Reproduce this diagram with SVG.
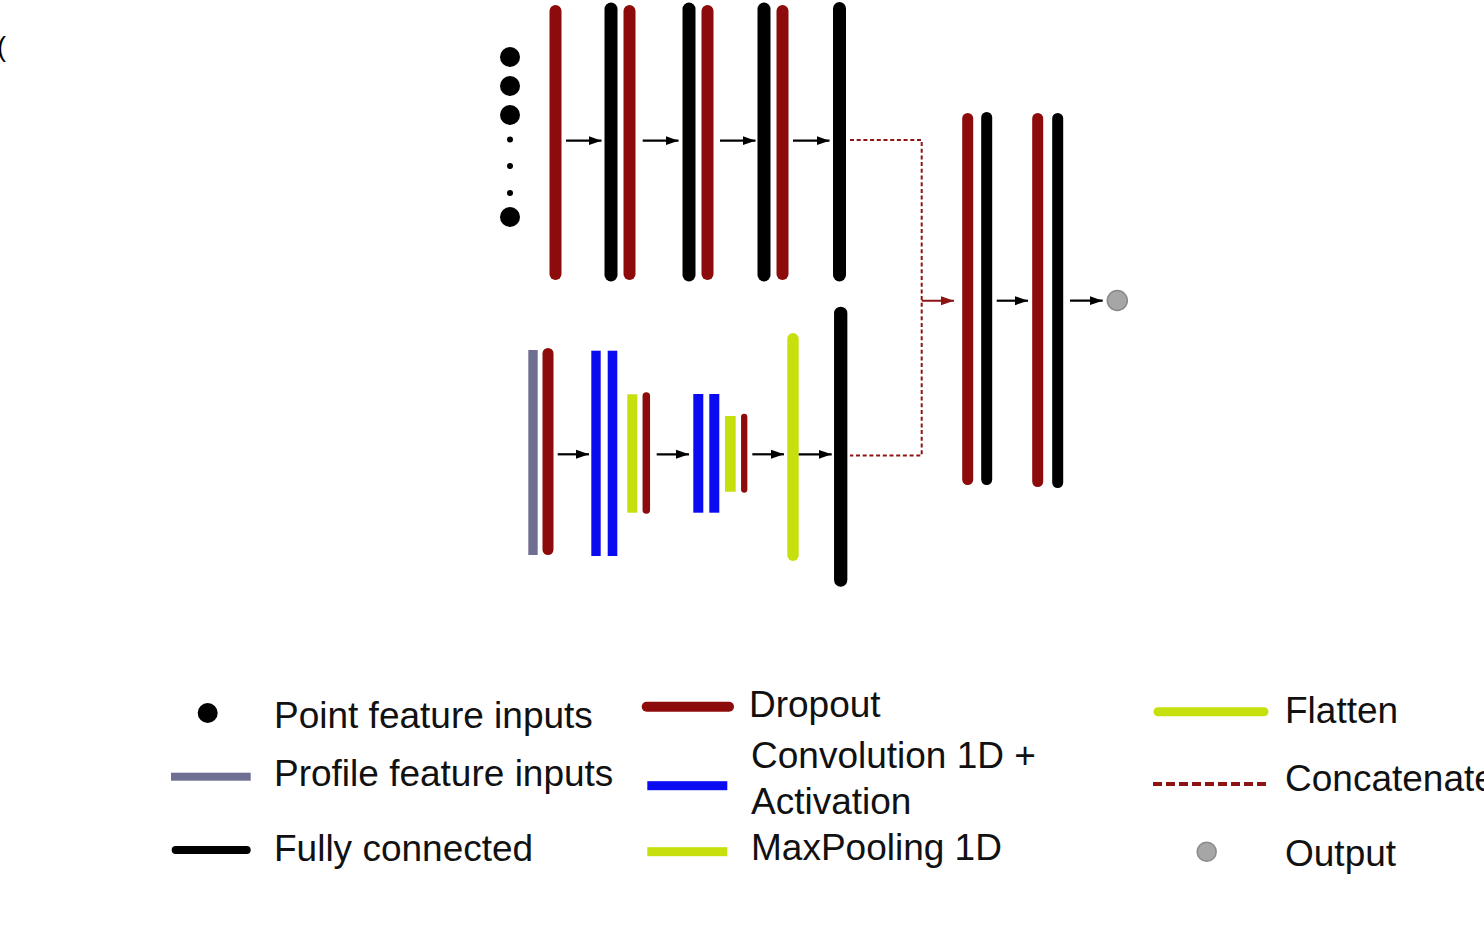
<svg xmlns="http://www.w3.org/2000/svg" width="1484" height="937" viewBox="0 0 1484 937">
<style>
.txt{font-family:"Liberation Sans",Arial,sans-serif;font-size:37px;fill:#111}
.drop{stroke:#8e0b0b;stroke-linecap:round;fill:none}
.fc{stroke:#000;stroke-linecap:round;fill:none}
.flat{stroke:#c5e00c;stroke-linecap:round;fill:none}
.conv{fill:#0b0bf2}
.pool{fill:#c5e00c}
.prof{fill:#6f6f93}
.arr{stroke:#000;stroke-width:2.2;fill:none;marker-end:url(#ah)}
.arrR{stroke:#8e1414;stroke-width:2;fill:none;marker-end:url(#ahR)}
.cat{stroke:#8e1414;stroke-width:2;stroke-dasharray:4 2.7;fill:none}
.out{fill:#a6a6a6;stroke:#8a8a8a;stroke-width:1.5}
</style>
<defs>
<marker id="ah" markerUnits="userSpaceOnUse" markerWidth="14" markerHeight="10" refX="13" refY="5" orient="auto"><path d="M0,0.5 L13,5 L0,9.5 z" fill="#000"/></marker>
<marker id="ahR" markerUnits="userSpaceOnUse" markerWidth="14" markerHeight="10" refX="13" refY="5" orient="auto"><path d="M0,0.5 L13,5 L0,9.5 z" fill="#8e1414"/></marker>
</defs>
<rect width="1484" height="937" fill="#fff"/>
<text x="-3" y="56" style="font-family:'Liberation Sans',Arial,sans-serif;font-size:27px;fill:#000">(</text>

<g id="point-inputs" fill="#000">
<circle cx="510" cy="57" r="10"/>
<circle cx="510" cy="86" r="10"/>
<circle cx="510" cy="115" r="10"/>
<circle cx="510" cy="139.5" r="3"/>
<circle cx="510" cy="166" r="3"/>
<circle cx="510" cy="193" r="3"/>
<circle cx="510" cy="217" r="10"/>
</g>
<g id="top-dropout-1"><line class="drop" x1="555.5" y1="11" x2="555.5" y2="274" stroke-width="12"/></g>
<g id="top-fc-1"><line class="fc" x1="611" y1="9" x2="611" y2="275" stroke-width="13"/></g>
<g id="top-dropout-2"><line class="drop" x1="629.5" y1="11" x2="629.5" y2="274" stroke-width="12"/></g>
<g id="top-fc-2"><line class="fc" x1="689" y1="9" x2="689" y2="275" stroke-width="13"/></g>
<g id="top-dropout-3"><line class="drop" x1="707.5" y1="11" x2="707.5" y2="274" stroke-width="12"/></g>
<g id="top-fc-3"><line class="fc" x1="764" y1="9" x2="764" y2="275" stroke-width="13"/></g>
<g id="top-dropout-4"><line class="drop" x1="782.5" y1="11" x2="782.5" y2="274" stroke-width="12"/></g>
<g id="top-fc-4"><line class="fc" x1="839.5" y1="8.5" x2="839.5" y2="275" stroke-width="13"/></g>

<g id="profile-input"><rect class="prof" x="528.3" y="350" width="9.4" height="205"/></g>
<g id="bot-dropout-1"><line class="drop" x1="548" y1="353.5" x2="548" y2="549.5" stroke-width="11"/></g>
<g id="bot-conv-1a"><rect class="conv" x="591.3" y="350.7" width="9.4" height="205.3"/></g>
<g id="bot-conv-1b"><rect class="conv" x="607.7" y="350.7" width="9.6" height="205.3"/></g>
<g id="bot-pool-1"><rect class="pool" x="627.3" y="394.3" width="10" height="118.4"/></g>
<g id="bot-dropout-2"><line class="drop" x1="646.3" y1="396" x2="646.3" y2="510" stroke-width="7.5"/></g>
<g id="bot-conv-2a"><rect class="conv" x="693.3" y="394" width="10" height="118.7"/></g>
<g id="bot-conv-2b"><rect class="conv" x="709.3" y="394" width="10" height="118.7"/></g>
<g id="bot-pool-2"><rect class="pool" x="725" y="416" width="10.7" height="75.7"/></g>
<g id="bot-dropout-3"><line class="drop" x1="744.2" y1="417" x2="744.2" y2="489.5" stroke-width="6.3"/></g>
<g id="bot-flatten"><line class="flat" x1="793" y1="338.7" x2="793" y2="555.3" stroke-width="11.4"/></g>
<g id="bot-fc"><line class="fc" x1="840.7" y1="313.3" x2="840.7" y2="580" stroke-width="13.3"/></g>

<g id="merge-dropout-1"><line class="drop" x1="967.7" y1="118.5" x2="967.7" y2="479.5" stroke-width="11"/></g>
<g id="merge-fc-1"><line class="fc" x1="986.7" y1="117.5" x2="986.7" y2="479.5" stroke-width="11"/></g>
<g id="merge-dropout-2"><line class="drop" x1="1037.7" y1="118.5" x2="1037.7" y2="481.5" stroke-width="11"/></g>
<g id="merge-fc-2"><line class="fc" x1="1057.7" y1="118.5" x2="1057.7" y2="482.5" stroke-width="11"/></g>
<g id="output"><circle class="out" cx="1117.3" cy="300.5" r="10"/></g>

<g id="connectors">
<line class="arr" x1="566" y1="140.7" x2="601.5" y2="140.7"/>
<line class="arr" x1="642.7" y1="140.7" x2="678.5" y2="140.7"/>
<line class="arr" x1="720" y1="140.7" x2="755.5" y2="140.7"/>
<line class="arr" x1="793" y1="140.7" x2="829.5" y2="140.7"/>
<line class="arr" x1="557.7" y1="454.3" x2="589" y2="454.3"/>
<line class="arr" x1="656.7" y1="454.3" x2="689" y2="454.3"/>
<line class="arr" x1="752.3" y1="454.3" x2="784" y2="454.3"/>
<line class="arr" x1="798.7" y1="454.3" x2="831.7" y2="454.3"/>
<polyline class="cat" points="850,140 921.7,140 921.7,455.5 850,455.5"/>
<line class="arrR" x1="921.7" y1="300.7" x2="954" y2="300.7"/>
<line class="arr" x1="996.7" y1="300.7" x2="1028" y2="300.7"/>
<line class="arr" x1="1070" y1="300.7" x2="1102.7" y2="300.7"/>
</g>

<g id="legend">
<circle cx="207.7" cy="713" r="10" fill="#000"/>
<text class="txt" x="274" y="727.5">Point feature inputs</text>
<rect class="prof" x="171" y="772.7" width="79.7" height="8"/>
<text class="txt" x="274" y="786">Profile feature inputs</text>
<line class="fc" x1="175.7" y1="850" x2="246.7" y2="850" stroke-width="8"/>
<text class="txt" x="274" y="861">Fully connected</text>

<line class="drop" x1="646.7" y1="706.7" x2="729" y2="706.7" stroke-width="10"/>
<text class="txt" x="749" y="717">Dropout</text>
<rect class="conv" x="647.3" y="781.2" width="80" height="9"/>
<text class="txt" x="751" y="768">Convolution 1D +</text>
<text class="txt" x="751" y="814">Activation</text>
<rect class="pool" x="647.3" y="847.2" width="80" height="9"/>
<text class="txt" x="751" y="860">MaxPooling 1D</text>

<line class="flat" x1="1158" y1="711.7" x2="1264" y2="711.7" stroke-width="9"/>
<text class="txt" x="1285" y="723">Flatten</text>
<line x1="1153" y1="784" x2="1267" y2="784" stroke="#8e1414" stroke-width="4" stroke-dasharray="9 4"/>
<text class="txt" x="1285" y="791">Concatenate</text>
<circle class="out" cx="1206.7" cy="851.7" r="9.5"/>
<text class="txt" x="1285" y="866">Output</text>
</g>
</svg>
